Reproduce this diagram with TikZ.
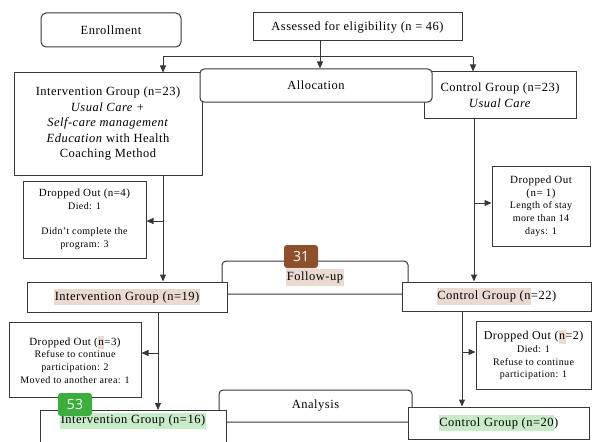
\documentclass[tikz,border=0pt]{standalone}
\usepackage{fontspec}
\setmainfont{Liberation Serif}[LetterSpace=4]
\newfontfamily\badgefont{Open Sans}
\usetikzlibrary{arrows.meta}
\definecolor{linegray}{HTML}{383838}
\definecolor{hlbeige}{HTML}{EBDAD0}
\definecolor{hlgreen}{HTML}{C8ECC8}
\definecolor{badgebrown}{HTML}{8E4F2C}
\definecolor{badgegreen}{HTML}{3BAE3B}
\newcommand{\hlb}[1]{{\setlength{\fboxsep}{0.5pt}\colorbox{hlbeige}{\strut #1}}}
\newcommand{\hlg}[1]{{\setlength{\fboxsep}{0.5pt}\colorbox{hlgreen}{\strut #1}}}
\begin{document}
\begin{tikzpicture}[x=1pt, y=-1pt,
    phase/.style={rectangle, draw=linegray, line width=1pt, fill=white, rounded corners=4pt, font=\fontsize{12.5}{15.5}\selectfont},
    group/.style={rectangle, draw=linegray, line width=1pt, fill=white, align=center, font=\fontsize{12.5}{15.5}\selectfont},
    dropbox/.style={rectangle, draw=linegray, line width=1pt, fill=white, align=center, font=\fontsize{10}{12.7}\selectfont},
    badge/.style={rectangle, rounded corners=3pt, text=white, inner sep=0pt, minimum width=34, minimum height=23, font=\badgefont\fontsize{14}{14}\selectfont},
    line/.style={draw=linegray, line width=1pt},
    flow/.style={line, -{Triangle[length=7pt, width=6pt]}}
]
    \useasboundingbox (0,0) rectangle (593,441);
    \clip (0,0) rectangle (593,441);

    % Enrollment
    \node[phase, rounded corners=5pt, minimum width=140, minimum height=34] (enroll) at (111,30) {Enrollment};
    \node[group, minimum width=209, minimum height=28] (assess) at (357.5,27) {Assessed for eligibility (n = 46)};

    % Allocation
    \node[group, minimum width=188, minimum height=102] (intv0) at (108,124) {Intervention Group (n=23)\\ \textit{Usual Care +}\\ \textit{Self-care management}\\ \textit{Education} with Health\\ Coaching Method};
    \node[group, minimum width=152, minimum height=46] (ctrl0) at (500,95) {Control Group (n=23)\\ \textit{Usual Care}};
    \node[phase, minimum width=232, minimum height=33] (alloc) at (316,85.5) {Allocation};

    \node[dropbox, minimum width=123, minimum height=77] (drop1) at (84.5,219.5) {{\fontsize{11}{12.7}\selectfont Dropped Out (n=4)}\\ Died: 1\\[12.7pt] Didn't complete the\\ program: 3};
    \node[dropbox, minimum width=98, minimum height=80] (drop2) at (541,206) {{\fontsize{11}{13.5}\selectfont Dropped Out}\\ {\fontsize{11}{13.5}\selectfont (n= 1)}\\ Length of stay\\ more than 14\\ days: 1};

    % Follow-up
    \node[phase, minimum width=186, minimum height=33] (follow) at (315,277.5) {\hlb{Follow-up}};
    \node[group, minimum width=200, minimum height=30] (intv1) at (127,297) {\hlb{Intervention Group (n=19)}};
    \node[group, minimum width=189, minimum height=29] (ctrl1) at (496.5,296.5) {\hlb{Control Group (n}=22)};

    \node[dropbox, minimum width=132, minimum height=75] (drop3) at (75,359.5) {{\fontsize{11}{12.7}\selectfont Dropped Out (\hlb{n}=3)}\\ Refuse to continue\\ participation: 2\\ Moved to another area: 1};
    \node[dropbox, minimum width=115, minimum height=68] (drop4) at (533.5,355) {{\fontsize{12}{13}\selectfont Dropped Out (\hlb{n}=2)}\\ Died: 1\\ Refuse to continue\\ participation: 1};

    % Analysis
    \node[phase, minimum width=193, minimum height=32] (analysis) at (315.5,406) {Analysis};
    \node[group, anchor=north, minimum width=186, inner ysep=2pt, text depth=34pt] (intv2) at (133,410) {\hlg{Intervention Group (n=16)}};
    \node[group, minimum width=181, minimum height=32] (ctrl2) at (498.5,423) {\hlg{Control Group (n=20})};

    % Connectors
    \coordinate (splitM) at (320,57);
    \coordinate (splitL) at (163,57);
    \coordinate (splitR) at (473,57);
    \coordinate (forkA) at (163,221);
    \coordinate (forkB) at (474,203);
    \coordinate (forkC) at (158,353);
    \coordinate (forkD) at (462,352);

    \draw[flow] (splitM |- assess.south) -- (splitM |- alloc.north);
    \draw[line] (splitL) -- (splitR);
    \draw[flow] (splitL) -- (splitL |- intv0.north);
    \draw[flow] (splitR) -- (splitR |- ctrl0.north);

    \draw[flow] (forkA |- intv0.south) -- (forkA |- intv1.north);
    \draw[flow] (forkA) -- (forkA -| drop1.east);
    \draw[flow] (forkB |- ctrl0.south) -- (forkB |- ctrl1.north);
    \draw[flow] (forkB) -- (forkB -| drop2.west);

    \draw[flow] (forkC |- intv1.south) -- (forkC |- intv2.north);
    \draw[flow] (forkC) -- (forkC -| drop3.east);
    \draw[flow] (forkD |- ctrl1.south) -- (forkD |- ctrl2.north);
    \draw[flow] (forkD) -- (forkD -| drop4.west);

    % Badges
    \node[badge, fill=badgebrown] (badgeA) at (301,256.5) {31};
    \node[badge, fill=badgegreen] (badgeB) at (75,404.5) {53};

\end{tikzpicture}
\end{document}
